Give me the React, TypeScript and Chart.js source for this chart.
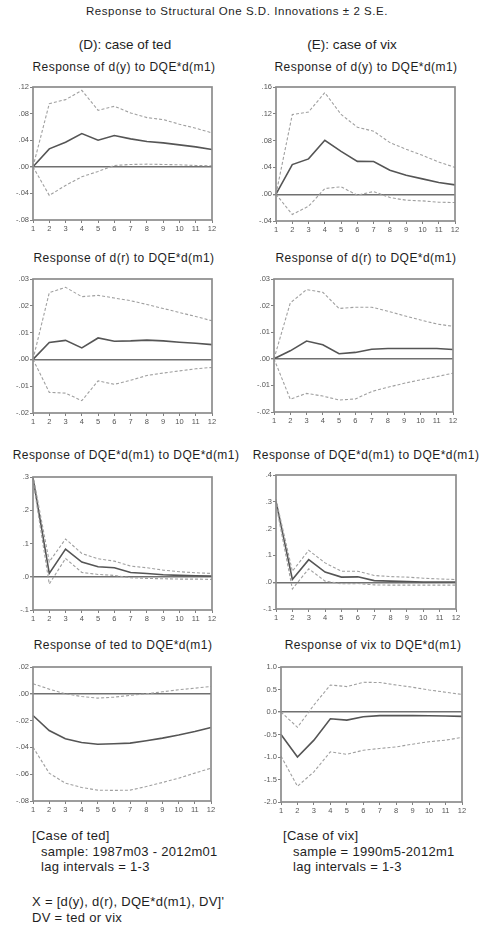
import React, { useEffect, useRef } from "react";
import { Chart, registerables } from "chart.js";

Chart.register(...registerables);

// ---------- data ----------
const periods = ["1", "2", "3", "4", "5", "6", "7", "8", "9", "10", "11", "12"];

// (D) case of ted
const dyTed = [0, 0.027, 0.037, 0.05, 0.04, 0.047, 0.042, 0.038, 0.036, 0.033, 0.03, 0.026];
const dyTedUp = [0, 0.095, 0.101, 0.115, 0.085, 0.091, 0.081, 0.074, 0.071, 0.064, 0.058, 0.051];
const dyTedLo = [0, -0.043, -0.028, -0.015, -0.007, 0.002, 0.0035, 0.004, 0.0035, 0.003, 0.002, 0.0015];

const drTed = [0, 0.0063, 0.0071, 0.0043, 0.008, 0.0068, 0.0069, 0.0072, 0.0069, 0.0064, 0.006, 0.0055];
const drTedUp = [0, 0.0249, 0.0269, 0.0234, 0.0239, 0.0229, 0.0219, 0.0205, 0.019, 0.0175, 0.016, 0.0144];
const drTedLo = [0, -0.0123, -0.0126, -0.0154, -0.008, -0.0093, -0.0078, -0.006, -0.0051, -0.0043, -0.0035, -0.003];

const mTed = [0.297, 0.01, 0.083, 0.044, 0.03, 0.027, 0.013, 0.01, 0.006, 0.004, 0.003, 0.002];
const mTedUp = [0.305, 0.045, 0.1135, 0.07, 0.054, 0.047, 0.032, 0.027, 0.02, 0.015, 0.012, 0.01];
const mTedLo = [0.289, -0.022, 0.055, 0.013, 0.007, 0.004, -0.003, -0.005, -0.006, -0.007, -0.007, -0.008];

const tedTed = [-0.0162, -0.0274, -0.0336, -0.0363, -0.0376, -0.0373, -0.0368, -0.035, -0.0331, -0.0308, -0.0281, -0.0251];
const tedTedUp = [0.0075, 0.0035, 0.0, -0.002, -0.0032, -0.0025, -0.0012, 0.0, 0.0015, 0.003, 0.0042, 0.0055];
const tedTedLo = [-0.0398, -0.0592, -0.0667, -0.0699, -0.0719, -0.0721, -0.0719, -0.0692, -0.0662, -0.063, -0.0592, -0.0555];

// (E) case of vix
const dyVix = [0, 0.0442, 0.0527, 0.0805, 0.064, 0.049, 0.0487, 0.0358, 0.0283, 0.0229, 0.0174, 0.0139];
const dyVixUp = [0, 0.1188, 0.1227, 0.1516, 0.119, 0.1, 0.094, 0.077, 0.067, 0.058, 0.048, 0.04];
const dyVixLo = [0, -0.0303, -0.018, 0.0084, 0.011, -0.0015, 0.004, -0.005, -0.009, -0.01, -0.012, -0.0124];

const drVix = [0, 0.003, 0.0067, 0.0053, 0.0019, 0.0024, 0.0036, 0.0039, 0.0039, 0.0039, 0.0039, 0.0035];
const drVixUp = [0, 0.021, 0.026, 0.025, 0.0189, 0.0194, 0.0194, 0.0179, 0.0162, 0.0146, 0.0131, 0.0122];
const drVixLo = [0, -0.0152, -0.013, -0.014, -0.0155, -0.0151, -0.0123, -0.0107, -0.0092, -0.0079, -0.0067, -0.0054];

const mVix = [0.301, 0.01, 0.084, 0.038, 0.019, 0.02, 0.006, 0.004, 0.0025, 0.001, 0.001, 0.001];
const mVixUp = [0.31, 0.041, 0.119, 0.072, 0.041, 0.041, 0.025, 0.021, 0.019, 0.015, 0.012, 0.01];
const mVixLo = [0.29, -0.025, 0.05, 0.004, -0.006, -0.005, -0.01, -0.011, -0.011, -0.011, -0.011, -0.011];

const vixVix = [-0.5, -1.0, -0.625, -0.15, -0.18, -0.105, -0.08, -0.08, -0.08, -0.085, -0.09, -0.097];
const vixVixUp = [0.0, -0.34, 0.156, 0.6, 0.565, 0.66, 0.655, 0.6, 0.55, 0.49, 0.44, 0.39];
const vixVixLo = [-0.98, -1.65, -1.33, -0.885, -0.94, -0.85, -0.81, -0.775, -0.715, -0.66, -0.625, -0.565];

// ---------- style ----------
const FONT = "'Liberation Sans', Arial, Helvetica, sans-serif";
const SOLID = "#555555";
const DASH = "#a0a0a0";
const FRAME = "#8c8c8c";
const TICK = "#808080";
const ZERO = "#707070";
const TEXT = "#1e1e1e";
const TICKTEXT = "#555555";

const YW = 30; // y-axis width
const XH = 16; // x-axis height
const PT = 6; // top padding
const PR = 6; // right padding

type PanelSpec = {
  title: string;
  irf: number[];
  up: number[];
  lo: number[];
  yMin: number;
  yMax: number;
  yStep: number;
  decimals: number;
  stripZero: boolean;
  box: [number, number, number, number];
  titleX: number;
  titleY: number;
};

const framePlugin = {
  id: "frame",
  afterDraw(chart: any) {
    const { ctx, chartArea } = chart;
    const { left, top, right, bottom } = chartArea;
    ctx.save();
    ctx.strokeStyle = FRAME;
    ctx.lineWidth = 1.7;
    ctx.strokeRect(left, top, right - left, bottom - top);
    ctx.restore();
  },
};

function fmt(v: number, decimals: number, strip: boolean) {
  let s = Number(v).toFixed(decimals);
  if (s.startsWith("-") && Number(s) === 0) s = s.slice(1);
  if (strip) s = s.replace(/^(-?)0\./, "$1.");
  return s;
}

function Panel({ spec }: { spec: PanelSpec }) {
  const ref = useRef<HTMLCanvasElement>(null);
  const [l, t, r, b] = spec.box;
  const cw = YW + (r - l) + PR;
  const ch = PT + (b - t) + XH;

  useEffect(() => {
    const tickFont = { family: FONT, size: 7.5 };
    const chart = new Chart(ref.current as HTMLCanvasElement, {
      type: "line",
      data: {
        labels: periods,
        datasets: [
          { data: spec.up, borderColor: DASH, borderWidth: 1.1, borderDash: [3, 2], pointRadius: 0, tension: 0, fill: false },
          { data: spec.lo, borderColor: DASH, borderWidth: 1.1, borderDash: [3, 2], pointRadius: 0, tension: 0, fill: false },
          { data: spec.irf, borderColor: SOLID, borderWidth: 1.6, pointRadius: 0, tension: 0, fill: false },
        ],
      },
      options: {
        responsive: false,
        animation: false,
        devicePixelRatio: 1,
        layout: { padding: { top: PT, right: PR, left: 0, bottom: 0 } },
        plugins: { legend: { display: false }, tooltip: { enabled: false }, title: { display: false } },
        scales: {
          x: {
            type: "category",
            offset: false,
            border: { display: false },
            grid: { color: "transparent", tickColor: TICK, tickLength: 3, drawTicks: true },
            ticks: { font: tickFont, color: TICKTEXT, padding: 1, maxRotation: 0, autoSkip: false },
            afterFit: (s: any) => {
              s.height = XH;
            },
          },
          y: {
            type: "linear",
            min: spec.yMin,
            max: spec.yMax,
            border: { display: false },
            grid: {
              color: (ctx: any) => (ctx.tick && Math.abs(ctx.tick.value) < 1e-9 ? ZERO : "transparent"),
              lineWidth: (ctx: any) => (ctx.tick && Math.abs(ctx.tick.value) < 1e-9 ? 1.4 : 1),
              tickColor: TICK,
              tickLength: 3,
            },
            ticks: {
              stepSize: spec.yStep,
              font: tickFont,
              color: TICKTEXT,
              padding: 1,
              autoSkip: false,
              callback: (v: any) => fmt(Number(v), spec.decimals, spec.stripZero),
            },
            afterFit: (s: any) => {
              s.width = YW;
            },
          },
        },
      } as any,
      plugins: [framePlugin],
    });
    return () => chart.destroy();
  }, []);

  return (
    <>
      <canvas
        ref={ref}
        width={cw}
        height={ch}
        style={{ position: "absolute", left: l - YW, top: t - PT, width: cw, height: ch }}
      />
      <Label x={spec.titleX} y={spec.titleY} size={12} spacing={0.45}>
        {spec.title}
      </Label>
    </>
  );
}

function Label({
  x,
  y,
  size,
  spacing = 0,
  children,
  anchor = "center",
}: {
  x: number;
  y: number;
  size: number;
  spacing?: number;
  children: React.ReactNode;
  anchor?: "center" | "left";
}) {
  return (
    <div
      style={{
        position: "absolute",
        left: x,
        top: y,
        transform: anchor === "center" ? "translate(-50%, -50%)" : "translate(0, -50%)",
        whiteSpace: "pre",
        fontFamily: FONT,
        fontSize: size,
        letterSpacing: spacing,
        color: TEXT,
        lineHeight: 1,
      }}
    >
      {children}
    </div>
  );
}

const panels: PanelSpec[] = [
  { title: "Response of d(y) to DQE*d(m1)", irf: dyTed, up: dyTedUp, lo: dyTedLo, yMin: -0.08, yMax: 0.12, yStep: 0.04, decimals: 2, stripZero: true, box: [33, 87, 212, 220], titleX: 124, titleY: 67 },
  { title: "Response of d(y) to DQE*d(m1)", irf: dyVix, up: dyVixUp, lo: dyVixLo, yMin: -0.04, yMax: 0.16, yStep: 0.04, decimals: 2, stripZero: true, box: [276, 87, 455, 221], titleX: 366, titleY: 67 },
  { title: "Response of d(r) to DQE*d(m1)", irf: drTed, up: drTedUp, lo: drTedLo, yMin: -0.02, yMax: 0.03, yStep: 0.01, decimals: 2, stripZero: true, box: [33, 279, 212, 413], titleX: 124, titleY: 258 },
  { title: "Response of d(r) to DQE*d(m1)", irf: drVix, up: drVixUp, lo: drVixLo, yMin: -0.02, yMax: 0.03, yStep: 0.01, decimals: 2, stripZero: true, box: [274, 279, 453, 412], titleX: 366, titleY: 258 },
  { title: "Response of DQE*d(m1) to DQE*d(m1)", irf: mTed, up: mTedUp, lo: mTedLo, yMin: -0.1, yMax: 0.3, yStep: 0.1, decimals: 1, stripZero: true, box: [33, 477, 212, 610], titleX: 126, titleY: 455 },
  { title: "Response of DQE*d(m1) to DQE*d(m1)", irf: mVix, up: mVixUp, lo: mVixLo, yMin: -0.1, yMax: 0.4, yStep: 0.1, decimals: 1, stripZero: true, box: [276, 475, 456, 609], titleX: 366, titleY: 455 },
  { title: "Response of ted to DQE*d(m1)", irf: tedTed, up: tedTedUp, lo: tedTedLo, yMin: -0.08, yMax: 0.02, yStep: 0.02, decimals: 2, stripZero: true, box: [33, 667, 211, 801], titleX: 123, titleY: 645 },
  { title: "Response of vix to DQE*d(m1)", irf: vixVix, up: vixVixUp, lo: vixVixLo, yMin: -2.0, yMax: 1.0, yStep: 0.5, decimals: 1, stripZero: false, box: [281, 667, 462, 802], titleX: 373, titleY: 645 },
];

export default function App() {
  return (
    <div style={{ position: "absolute", left: 0, top: 0, width: 481, height: 931, background: "#fff", overflow: "hidden" }}>
      <Label x={237} y={12} size={11.5} spacing={0.55}>
        Response to Structural One S.D. Innovations ± 2 S.E.
      </Label>
      <Label x={125} y={45} size={13.5}>
        (D): case of ted
      </Label>
      <Label x={352} y={45} size={13.5}>
        (E): case of vix
      </Label>
      {panels.map((p, i) => (
        <Panel key={i} spec={p} />
      ))}
      <Label x={32} y={835} size={13} spacing={0.3} anchor="left">
        [Case of ted]
      </Label>
      <Label x={41} y={851} size={13} spacing={0.3} anchor="left">
        sample: 1987m03 - 2012m01
      </Label>
      <Label x={41} y={866} size={13} spacing={0.3} anchor="left">
        lag intervals = 1-3
      </Label>
      <Label x={32} y={901} size={13} spacing={0.3} anchor="left">
        X = [d(y), d(r), DQE*d(m1), DV]'
      </Label>
      <Label x={32} y={917} size={13} spacing={0.3} anchor="left">
        DV = ted or vix
      </Label>
      <Label x={283} y={835} size={13} spacing={0.3} anchor="left">
        [Case of vix]
      </Label>
      <Label x={293} y={851} size={13} spacing={0.3} anchor="left">
        sample = 1990m5-2012m1
      </Label>
      <Label x={293} y={866} size={13} spacing={0.3} anchor="left">
        lag intervals = 1-3
      </Label>
    </div>
  );
}
